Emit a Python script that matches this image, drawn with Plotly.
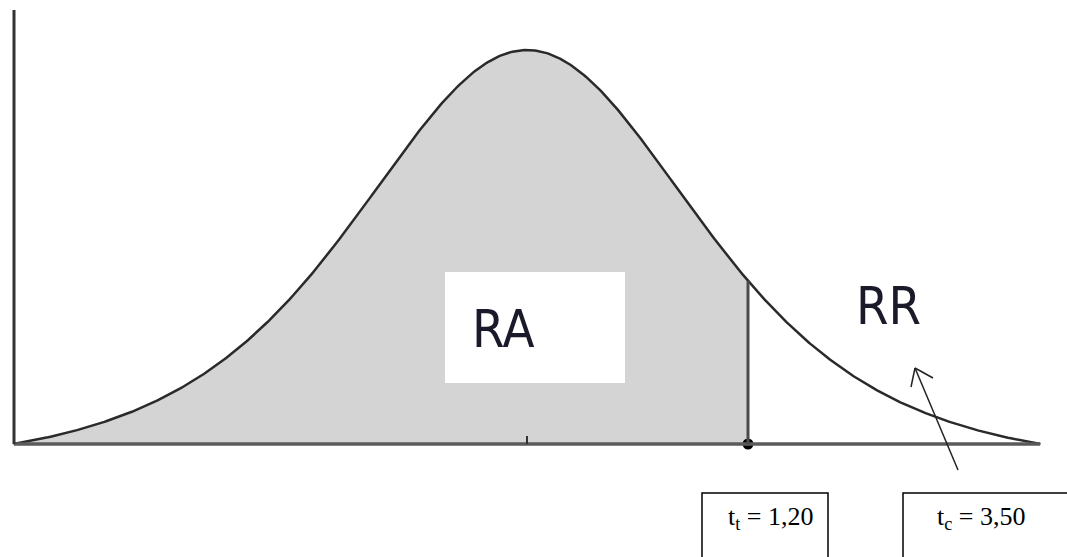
import numpy as np
import plotly.graph_objects as go

# --- distribution and test values -------------------------------------------
df_t = 4             # degrees of freedom of the sketched t curve
curve_scale = 0.98   # horizontal scale of the curve
t_tab = 1.20         # tabulated (critical) value -> boundary of RA / RR
t_calc = 3.50        # calculated value
x_left, x_right = -2.788, 2.788   # drawn extent of the curve (it meets the axis there)
region_labels = ["RA", "RR"]
box_labels = ["t<sub>t</sub> = 1,20", "t<sub>c</sub> = 3,50"]

W, H = 1067, 557
# plot-area mapping: centre of the curve and baseline position
X0_PX, Y0_PX = 527, 444
SX = (748 - X0_PX) / t_tab   # px per x unit
SY = 394.0                   # px per unit of relative density

XR = [-X0_PX / SX, (W - X0_PX) / SX]
YR = [-(H - Y0_PX) / SY, Y0_PX / SY]


def px_x(p):
    return (p - X0_PX) / SX


def px_y(p):
    return (Y0_PX - p) / SY


def t_kernel(x):
    z = np.asarray(x, dtype=float) / curve_scale
    return (1 + z ** 2 / df_t) ** (-(df_t + 1) / 2)


def curve_height(x):
    """t density relative to its peak, dropped so it reaches zero at the ends."""
    edge = t_kernel(x_left)
    return (t_kernel(x) - edge) / (1 - edge)


xs = np.linspace(x_left, x_right, 600)
ys = curve_height(xs)

xs_fill = np.linspace(x_left, t_tab, 400)
ys_fill = curve_height(xs_fill)
y_cut = float(curve_height(t_tab))

fig = go.Figure()

# acceptance region shading
fig.add_trace(go.Scatter(
    x=np.concatenate([[x_left], xs_fill, [t_tab]]),
    y=np.concatenate([[0], ys_fill, [0]]),
    fill="toself", fillcolor="#d4d4d4", line=dict(width=0),
    mode="lines", hoverinfo="skip", showlegend=False))

# density curve
fig.add_trace(go.Scatter(
    x=xs, y=ys, mode="lines",
    line=dict(color="#2a2a2a", width=2.5),
    hoverinfo="skip", showlegend=False))

shapes = []
# horizontal axis
shapes.append(dict(type="line", xref="x", yref="y",
                   x0=px_x(14), x1=px_x(1040), y0=0, y1=0,
                   line=dict(color="#5a5a5a", width=3.5), layer="above"))
# vertical axis
shapes.append(dict(type="line", xref="x", yref="y",
                   x0=px_x(14), x1=px_x(14), y0=0, y1=px_y(10),
                   line=dict(color="#333333", width=3), layer="above"))
# tick at the centre
shapes.append(dict(type="line", xref="x", yref="y",
                   x0=0, x1=0, y0=0, y1=px_y(436),
                   line=dict(color="#333333", width=2), layer="above"))
# boundary at t_t
shapes.append(dict(type="line", xref="x", yref="y",
                   x0=t_tab, x1=t_tab, y0=0, y1=y_cut,
                   line=dict(color="#4a4a4a", width=3), layer="above"))
# white label patch inside the acceptance region
shapes.append(dict(type="rect", xref="x", yref="y",
                   x0=px_x(445), x1=px_x(625), y0=px_y(383), y1=px_y(272),
                   fillcolor="white", line=dict(width=0), layer="above"))
# arrow pointing into the rejection region
tail, tip = (958, 470), (915, 368)
shapes.append(dict(type="line", xref="x", yref="y",
                   x0=px_x(tail[0]), y0=px_y(tail[1]),
                   x1=px_x(tip[0]), y1=px_y(tip[1]),
                   line=dict(color="#222222", width=1.5), layer="above"))
for wing in [(933, 378), (911, 387)]:
    shapes.append(dict(type="line", xref="x", yref="y",
                       x0=px_x(tip[0]), y0=px_y(tip[1]),
                       x1=px_x(wing[0]), y1=px_y(wing[1]),
                       line=dict(color="#222222", width=1.5), layer="above"))
# value boxes below the axis
shapes.append(dict(type="rect", xref="x", yref="y",
                   x0=px_x(702), x1=px_x(828), y0=px_y(570), y1=px_y(493),
                   fillcolor="white", line=dict(color="black", width=1.5),
                   layer="above"))
shapes.append(dict(type="rect", xref="x", yref="y",
                   x0=px_x(903), x1=px_x(1080), y0=px_y(570), y1=px_y(493),
                   fillcolor="white", line=dict(color="black", width=1.5),
                   layer="above"))

# dot on the axis at t_t
fig.add_trace(go.Scatter(
    x=[t_tab], y=[0], mode="markers",
    marker=dict(color="black", size=11),
    hoverinfo="skip", showlegend=False))

sans = "DejaVu Sans Condensed, Arial Narrow, Liberation Sans, Arial, sans-serif"
serif = "Liberation Serif, Times New Roman, serif"

annotations = [
    dict(x=px_x(503), y=px_y(329), xref="x", yref="y", text=region_labels[0],
         showarrow=False, font=dict(family=sans, size=52, color="#1a1a2a")),
    dict(x=px_x(888), y=px_y(306), xref="x", yref="y", text=region_labels[1],
         showarrow=False, font=dict(family=sans, size=52, color="#1a1a2a")),
    dict(x=px_x(770), y=px_y(518), xref="x", yref="y", text=box_labels[0],
         showarrow=False, font=dict(family=serif, size=26, color="black")),
    dict(x=px_x(981), y=px_y(518), xref="x", yref="y", text=box_labels[1],
         showarrow=False, font=dict(family=serif, size=26, color="black")),
]

fig.update_layout(
    width=W, height=H,
    margin=dict(l=0, r=0, t=0, b=0),
    paper_bgcolor="white", plot_bgcolor="white",
    xaxis=dict(range=XR, visible=False, fixedrange=True),
    yaxis=dict(range=YR, visible=False, fixedrange=True),
    shapes=shapes, annotations=annotations,
    showlegend=False,
)

fig.write_html("out.html")
